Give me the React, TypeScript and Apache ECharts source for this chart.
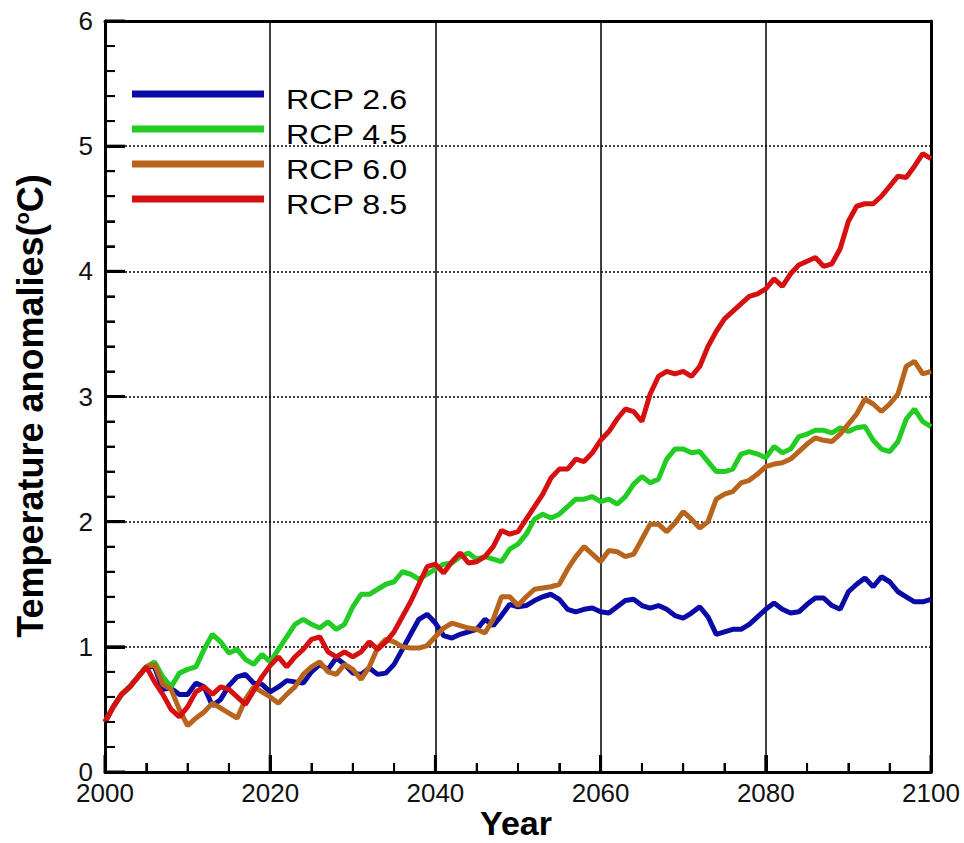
import React, { useEffect, useRef } from "react";
import * as echarts from "echarts";

const START_YEAR = 2000;
const seriesNames = ["RCP 2.6", "RCP 4.5", "RCP 6.0", "RCP 8.5"];
const seriesColors = ["#0a0aa6", "#22cc22", "#b8641c", "#d61010"];
const xTicks = [2000, 2020, 2040, 2060, 2080, 2100];
const yTicks = [0, 1, 2, 3, 4, 5, 6];

const rcp26 = [
  0.40, 0.52, 0.62, 0.68, 0.76, 0.84,
  0.84, 0.66, 0.67, 0.62, 0.62,
  0.71, 0.68, 0.53, 0.58, 0.69,
  0.76, 0.78, 0.71, 0.70, 0.64,
  0.68, 0.73, 0.72, 0.71, 0.80,
  0.86, 0.82, 0.91, 0.86, 0.79,
  0.78, 0.83, 0.78, 0.79, 0.86,
  0.98, 1.10, 1.22, 1.26, 1.19,
  1.09, 1.07, 1.10, 1.12, 1.14,
  1.22, 1.17, 1.25, 1.34, 1.32,
  1.33, 1.37, 1.40, 1.42, 1.38,
  1.30, 1.28, 1.30, 1.31, 1.28,
  1.27, 1.32, 1.37, 1.38, 1.33,
  1.31, 1.33, 1.30, 1.25, 1.23,
  1.27, 1.32, 1.24, 1.10, 1.12,
  1.14, 1.14, 1.18, 1.24, 1.30,
  1.35, 1.30, 1.27, 1.28, 1.34,
  1.39, 1.39, 1.33, 1.30, 1.44,
  1.50, 1.55, 1.48, 1.56, 1.52,
  1.44, 1.40, 1.36, 1.36, 1.38,
];

const rcp45 = [
  0.40, 0.52, 0.62, 0.68, 0.76, 0.84,
  0.88, 0.76, 0.68, 0.79, 0.82,
  0.84, 0.98, 1.10, 1.04, 0.95,
  0.98, 0.90, 0.86, 0.94, 0.88,
  0.98, 1.08, 1.18, 1.22, 1.18,
  1.15, 1.20, 1.14, 1.18, 1.32,
  1.42, 1.42, 1.46, 1.50, 1.52,
  1.60, 1.58, 1.54, 1.58, 1.62,
  1.66, 1.67, 1.72, 1.75, 1.70,
  1.72, 1.70, 1.68, 1.78, 1.82,
  1.90, 2.02, 2.06, 2.03, 2.06,
  2.12, 2.18, 2.18, 2.20, 2.16,
  2.18, 2.14, 2.20, 2.30, 2.36,
  2.31, 2.34, 2.50, 2.58, 2.58,
  2.55, 2.56, 2.48, 2.40, 2.40,
  2.42, 2.54, 2.56, 2.54, 2.51,
  2.60, 2.55, 2.58, 2.68, 2.70,
  2.73, 2.73, 2.71, 2.75, 2.72,
  2.75, 2.76, 2.65, 2.58, 2.56,
  2.64, 2.82, 2.90, 2.80, 2.76,
];

const rcp60 = [
  0.40, 0.52, 0.62, 0.68, 0.76, 0.84,
  0.86, 0.70, 0.66, 0.50, 0.37,
  0.43, 0.48, 0.55, 0.51, 0.47,
  0.43, 0.58, 0.68, 0.64, 0.60,
  0.55, 0.62, 0.68, 0.78, 0.84,
  0.88, 0.80, 0.78, 0.86, 0.82,
  0.74, 0.84, 0.99, 1.06, 1.04,
  1.00, 0.99, 0.99, 1.01, 1.08,
  1.15, 1.19, 1.17, 1.15, 1.14,
  1.11, 1.22, 1.40, 1.40, 1.33,
  1.40, 1.46, 1.47, 1.48, 1.50,
  1.62, 1.72, 1.80, 1.74, 1.68,
  1.77, 1.76, 1.72, 1.74, 1.86,
  1.98, 1.98, 1.92, 1.99, 2.08,
  2.02, 1.95, 2.00, 2.18, 2.22,
  2.24, 2.31, 2.33, 2.38, 2.44,
  2.46, 2.47, 2.50, 2.56, 2.62,
  2.67, 2.65, 2.64, 2.70, 2.78,
  2.86, 2.98, 2.94, 2.88, 2.94,
  3.02, 3.24, 3.28, 3.18, 3.20,
];

const rcp85 = [
  0.40, 0.52, 0.62, 0.68, 0.76, 0.84,
  0.72, 0.62, 0.50, 0.44, 0.52,
  0.64, 0.68, 0.62, 0.68, 0.66,
  0.60, 0.54, 0.65, 0.76, 0.85,
  0.92, 0.84, 0.92, 0.98, 1.06,
  1.08, 0.96, 0.92, 0.96, 0.92,
  0.96, 1.04, 0.98, 1.04, 1.12,
  1.24, 1.36, 1.50, 1.64, 1.66,
  1.59, 1.68, 1.75, 1.67, 1.68,
  1.72, 1.80, 1.93, 1.90, 1.92,
  2.02, 2.12, 2.22, 2.35, 2.42,
  2.42, 2.50, 2.48, 2.55, 2.65,
  2.72, 2.82, 2.90, 2.88, 2.80,
  3.02, 3.16, 3.20, 3.18, 3.20,
  3.16, 3.24, 3.40, 3.52, 3.62,
  3.68, 3.74, 3.80, 3.82, 3.86,
  3.94, 3.88, 3.98, 4.05, 4.08,
  4.11, 4.04, 4.06, 4.18, 4.40,
  4.52, 4.54, 4.54, 4.60, 4.68,
  4.76, 4.75, 4.84, 4.94, 4.90,
];

const allSeries = [rcp26, rcp45, rcp60, rcp85];
const FONT = "'Liberation Sans', Arial, sans-serif";

export default function App() {
  const ref = useRef<HTMLDivElement>(null);

  useEffect(() => {
    if (!ref.current) return;
    const chart = echarts.init(ref.current, null, { renderer: "svg" });

    const legendY = [94, 129, 164, 199];
    const legendGraphics: any[] = [];
    seriesNames.forEach((name, i) => {
      legendGraphics.push({
        type: "line",
        shape: { x1: 132, y1: legendY[i], x2: 264, y2: legendY[i] },
        style: { stroke: seriesColors[i], lineWidth: 7 },
        z: 100,
      });
      legendGraphics.push({
        type: "text",
        x: 286,
        y: legendY[i] + 5,
        scaleX: 1.15,
        style: {
          text: name,
          fontSize: 28,
          fontFamily: FONT,
          fill: "#000",
          align: "left",
          verticalAlign: "middle",
        },
        z: 100,
      });
    });

    const frameAxis = {
      axisLine: { show: true, onZero: false, lineStyle: { color: "#000", width: 3 } },
      axisTick: { show: false },
      minorTick: { show: false },
      axisLabel: { show: false },
      splitLine: { show: false },
    };

    const titleGraphics: any[] = [
      {
        type: "text",
        x: 516,
        y: 823,
        style: {
          text: "Year",
          fontSize: 34,
          fontWeight: "bold",
          fontFamily: FONT,
          fill: "#000",
          align: "center",
          verticalAlign: "middle",
        },
      },
      {
        type: "text",
        x: 30,
        y: 406,
        rotation: Math.PI / 2,
        style: {
          text: "Temperature anomalies({sup|o}C)",
          fontSize: 36,
          fontWeight: "bold",
          fontFamily: FONT,
          fill: "#000",
          align: "center",
          verticalAlign: "middle",
          rich: {
            sup: {
              fontSize: 20,
              fontWeight: "bold",
              fontFamily: FONT,
              fill: "#000",
              verticalAlign: "top",
            },
          },
        },
      },
    ];

    const option: any = {
      animation: false,
      backgroundColor: "#fff",
      grid: { left: 105, top: 21, right: 33, bottom: 71 },
      xAxis: [
        {
          type: "value",
          position: "bottom",
          min: xTicks[0],
          max: xTicks[xTicks.length - 1],
          interval: 20,
          axisLine: { show: true, onZero: false, lineStyle: { color: "#000", width: 3 } },
          axisTick: { show: true, inside: true, length: 17, lineStyle: { color: "#000", width: 3 } },
          minorTick: { show: true, splitNumber: 4, length: 9, lineStyle: { color: "#000", width: 2 } },
          splitLine: { show: true, lineStyle: { color: "#000", width: 1.5, type: "solid" } },
          axisLabel: {
            formatter: (v: number) => String(v),
            fontSize: 26,
            fontFamily: FONT,
            color: "#111",
            margin: 8,
          },
        },
        {
          type: "value",
          position: "top",
          min: xTicks[0],
          max: xTicks[xTicks.length - 1],
          interval: 20,
          ...frameAxis,
        },
      ],
      yAxis: [
        {
          type: "value",
          position: "left",
          min: yTicks[0],
          max: yTicks[yTicks.length - 1],
          interval: 1,
          axisLine: { show: true, onZero: false, lineStyle: { color: "#000", width: 3 } },
          axisTick: { show: true, inside: true, length: 20, lineStyle: { color: "#000", width: 3 } },
          minorTick: { show: true, splitNumber: 5, length: 10, lineStyle: { color: "#000", width: 2 } },
          splitLine: { show: true, lineStyle: { color: "#000", width: 1.5, type: [2, 2] } },
          axisLabel: {
            fontSize: 26,
            fontFamily: FONT,
            color: "#111",
            margin: 12,
          },
        },
        {
          type: "value",
          position: "right",
          min: yTicks[0],
          max: yTicks[yTicks.length - 1],
          interval: 1,
          ...frameAxis,
        },
      ],
      series: allSeries.map((vals, i) => ({
        name: seriesNames[i],
        type: "line",
        xAxisIndex: 0,
        yAxisIndex: 0,
        showSymbol: false,
        symbol: "none",
        data: vals.map((v, k) => [START_YEAR + k, v]),
        lineStyle: { color: seriesColors[i], width: 5 },
        itemStyle: { color: seriesColors[i] },
        z: 2 + i,
      })),
      graphic: [...legendGraphics, ...titleGraphics],
    };

    chart.setOption(option);

    // Tick marks placed through the chart's own scales
    const tickGraphics: any[] = [];
    const xMin = xTicks[0];
    const xMax = xTicks[xTicks.length - 1];
    const yMin = yTicks[0];
    const yMax = yTicks[yTicks.length - 1];
    for (let x = xMin; x <= xMax; x += 5) {
      const p = chart.convertToPixel({ xAxisIndex: 0, yAxisIndex: 0 }, [x, yMin]) as number[];
      const major = xTicks.indexOf(x) >= 0;
      const len = major ? 17 : 9;
      tickGraphics.push({
        type: "line",
        shape: { x1: p[0], y1: p[1], x2: p[0], y2: p[1] - len },
        style: { stroke: "#000", lineWidth: major ? 3 : 2 },
        z: 50,
      });
    }
    for (let k = 0; k <= (yMax - yMin) * 5; k++) {
      const y = yMin + k / 5;
      const p = chart.convertToPixel({ xAxisIndex: 0, yAxisIndex: 0 }, [xMin, y]) as number[];
      const major = k % 5 === 0;
      const len = major ? 20 : 10;
      tickGraphics.push({
        type: "line",
        shape: { x1: p[0], y1: p[1], x2: p[0] + len, y2: p[1] },
        style: { stroke: "#000", lineWidth: major ? 3 : 2 },
        z: 50,
      });
    }
    chart.setOption({ graphic: [...legendGraphics, ...titleGraphics, ...tickGraphics] }, { replaceMerge: ["graphic"] });

    return () => chart.dispose();
  }, []);

  return (
    <div
      ref={ref}
      style={{ position: "fixed", left: 0, top: 0, width: 964, height: 843 }}
    />
  );
}
